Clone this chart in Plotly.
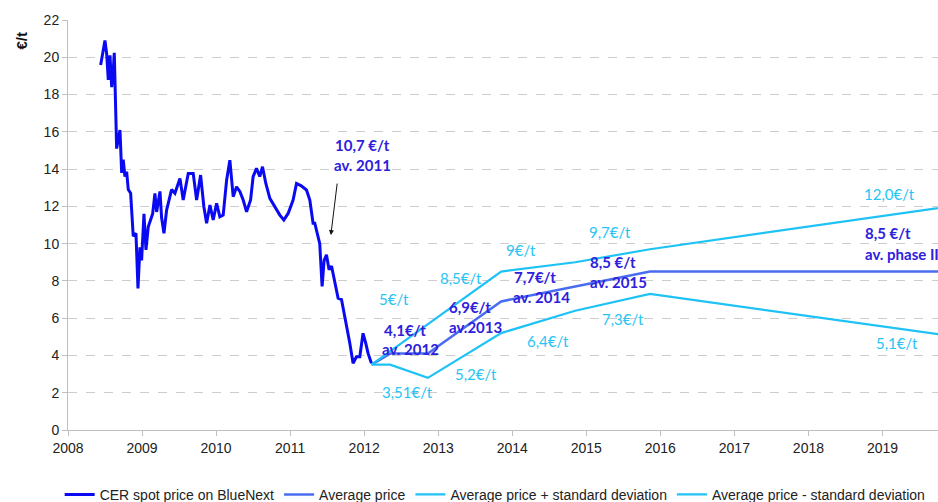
import plotly.graph_objects as go

# ---------------- data ----------------
spot_year = [2008.441, 2008.499, 2008.522, 2008.544, 2008.567, 2008.590, 2008.611, 2008.625, 2008.634,
             2008.644, 2008.657, 2008.702, 2008.725, 2008.746, 2008.769, 2008.792, 2008.814, 2008.846,
             2008.881, 2008.918, 2008.945, 2008.972, 2008.994, 2009.026, 2009.053, 2009.084, 2009.143,
             2009.174, 2009.197, 2009.242, 2009.264, 2009.296, 2009.332, 2009.399, 2009.444,
             2009.512, 2009.556, 2009.624, 2009.691, 2009.737, 2009.791, 2009.835, 2009.872, 2009.917,
             2009.961, 2010.007, 2010.051, 2010.096, 2010.142, 2010.186, 2010.231, 2010.276, 2010.321,
             2010.366, 2010.412, 2010.466, 2010.500, 2010.546, 2010.590, 2010.627, 2010.672, 2010.726,
             2010.794, 2010.861, 2010.915, 2010.973, 2011.040, 2011.086, 2011.150, 2011.221, 2011.266,
             2011.310, 2011.333, 2011.378, 2011.400, 2011.432, 2011.459, 2011.491, 2011.526,
             2011.559, 2011.603, 2011.648, 2011.694, 2011.738, 2011.761, 2011.806, 2011.850, 2011.896,
             2011.941, 2011.985, 2012.022, 2012.053, 2012.098]
spot_price = [19.58, 20.9, 20.2, 18.78, 20.1, 18.4, 19.3, 20.24, 18.8,
              16.9, 15.1, 16.1, 13.8, 14.5, 13.6, 13.86, 12.9, 12.7,
              10.4, 10.55, 7.6, 9.8, 9.1, 11.6, 9.66, 10.9, 11.6,
              12.7, 11.7, 12.8, 11.4, 10.55, 11.8, 12.9, 12.7,
              13.5, 12.34, 13.77, 13.77, 12.34, 13.68, 11.98, 11.09, 12.07,
              11.27, 12.16, 11.44, 11.53, 13.4, 14.48, 12.52, 13.05, 12.8,
              12.34, 11.71, 12.34, 13.59, 14.04, 13.6, 14.13, 13.23, 12.43,
              11.98, 11.53, 11.27, 11.62, 12.34, 13.23, 13.1, 12.88, 12.34,
              11.1, 11.1, 10.4, 10.0, 7.7, 9.1, 9.4, 8.6,
              8.8, 7.9, 7.07, 7.0, 6.1, 5.54, 4.65, 3.58, 3.93,
              3.93, 5.19, 4.65, 4.11, 3.58]

avg_year = [2012.10, 2012.35, 2012.86, 2013.85, 2014.85, 2015.86, 2020.0]
avg_price = [3.51, 4.1, 4.1, 6.9, 7.7, 8.5, 8.5]

upper_year = [2012.10, 2013.85, 2014.85, 2015.86, 2020.0]
upper_price = [3.51, 8.5, 9.0, 9.7, 12.05]

lower_year = [2012.10, 2012.35, 2012.86, 2013.85, 2014.85, 2015.86, 2020.0]
lower_price = [3.51, 3.51, 2.8, 5.2, 6.4, 7.3, 5.0]

year_ticks = list(range(2008, 2020))
year_labels = [str(y) for y in year_ticks]
y_ticks = list(range(0, 23, 2))

series_names = ["CER spot price on BlueNext", "Average price",
                "Average price + standard deviation", "Average price - standard deviation"]

# ---------------- styling ----------------
C_SPOT = "#0A0AF2"
C_AVG = "#4A6CF0"
C_SD = "#1EC2F5"
C_LBL_LIGHT = "#28C4F4"
C_LBL_DARK = "#2E20DC"
AXIS_FONT = "Liberation Sans, Arial, sans-serif"
LBL_FONT = "Lato, Noto Sans, sans-serif"

fig = go.Figure()
fig.add_trace(go.Scatter(x=spot_year, y=spot_price, mode="lines", name=series_names[0],
                         line=dict(color=C_SPOT, width=3)))
fig.add_trace(go.Scatter(x=avg_year, y=avg_price, mode="lines", name=series_names[1],
                         line=dict(color=C_AVG, width=2.5)))
fig.add_trace(go.Scatter(x=upper_year, y=upper_price, mode="lines", name=series_names[2],
                         line=dict(color=C_SD, width=2.2)))
fig.add_trace(go.Scatter(x=lower_year, y=lower_price, mode="lines", name=series_names[3],
                         line=dict(color=C_SD, width=2.2)))

light_labels = [
    ("5€/t", 2012.40, 7.03), ("8,5€/t", 2013.31, 8.16), ("3,51€/t", 2012.59, 2.04),
    ("5,2€/t", 2013.51, 3.0), ("9€/t", 2014.12, 9.66), ("6,4€/t", 2014.48, 4.78),
    ("9,7€/t", 2015.32, 10.62), ("7,3€/t", 2015.49, 5.96), ("12,0€/t", 2019.09, 12.66),
    ("5,1€/t", 2019.20, 4.67),
]
for t, x, y in light_labels:
    fig.add_annotation(x=x, y=y, text=t, showarrow=False,
                       font=dict(family=LBL_FONT, size=15, color=C_LBL_LIGHT))

dark_labels = [
    ("<b>4,1€/t</b>", 2012.55, 5.37), ("<b>av. 2012</b>", 2012.62, 4.35),
    ("<b>6,9€/t</b>", 2013.43, 6.6), ("<b>av.2013</b>", 2013.51, 5.53),
    ("<b>7,7€/t</b>", 2014.31, 8.21), ("<b>av. 2014</b>", 2014.39, 7.14),
    ("<b>8,5 €/t</b>", 2015.36, 9.01), ("<b>av. 2015</b>", 2015.44, 7.94),
    ("<b>10,7 €/t</b>", 2011.98, 15.29), ("<b>av. 2011</b>", 2011.98, 14.22),
]
for t, x, y in dark_labels:
    fig.add_annotation(x=x, y=y, text=t, showarrow=False,
                       font=dict(family=LBL_FONT, size=15, color=C_LBL_DARK))
for t, y in [("<b>8,5 €/t</b>", 10.57), ("<b>av. phase III</b>", 9.44)]:
    fig.add_annotation(x=2018.74, y=y, text=t, showarrow=False, xanchor="left",
                       font=dict(family=LBL_FONT, size=15, color=C_LBL_DARK))

# arrow pointing to the 2011 average
fig.add_annotation(x=2011.55, y=10.46, ax=6.5, ay=-53, text="", showarrow=True,
                   arrowhead=2, arrowsize=1, arrowwidth=1, arrowcolor="#111111")

# y-axis title
fig.add_annotation(xref="paper", yref="paper", x=-58 / 870, y=(430 - 30) / 410,
                   text="<b>€/t</b>", textangle=-90, showarrow=False,
                   font=dict(family=AXIS_FONT, size=15, color="#111111"))

fig.update_layout(
    width=938, height=502,
    margin=dict(l=68, r=0, t=20, b=72, autoexpand=False),
    plot_bgcolor="white", paper_bgcolor="white",
    showlegend=True,
    legend=dict(orientation="h", x=0.491, xanchor="center", y=-0.158, yanchor="middle",
                font=dict(family=AXIS_FONT, size=14, color="#222222"),
                bgcolor="rgba(0,0,0,0)", itemwidth=30, tracegroupgap=0),
    font=dict(family=AXIS_FONT, size=14, color="#222222"),
)
fig.update_xaxes(range=[2008, 2019.75], tickmode="array", tickvals=year_ticks, ticktext=year_labels,
                 showgrid=False, zeroline=False, showline=True, linecolor="#BFBFBF", linewidth=1,
                 ticks="outside", ticklen=5, tickcolor="#BFBFBF",
                 tickfont=dict(family=AXIS_FONT, size=14, color="#222222"))
fig.update_yaxes(range=[0, 22], tickmode="array", tickvals=y_ticks,
                 showgrid=True, gridcolor="#CDCDCD", griddash="dash", gridwidth=1,
                 zeroline=False, showline=True, linecolor="#BFBFBF", linewidth=1,
                 ticks="outside", ticklen=5, tickcolor="#BFBFBF",
                 tickfont=dict(family=AXIS_FONT, size=14, color="#222222"))

fig.write_html("out.html", config={"displayModeBar": False},
               post_script="document.body.style.margin='0';")
